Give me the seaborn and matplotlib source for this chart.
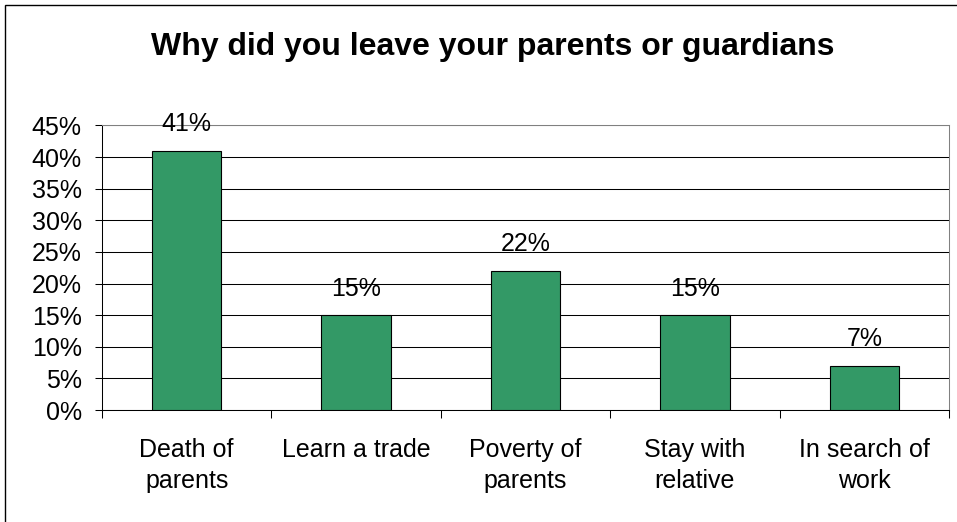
import matplotlib
matplotlib.use("Agg")
import matplotlib.pyplot as plt
import matplotlib.ticker as mticker
from matplotlib.patches import Rectangle
import seaborn as sns
import pandas as pd

# Survey answers and their shares
reasons = ["Death of\nparents", "Learn a trade", "Poverty of\nparents",
           "Stay with\nrelative", "In search of\nwork"]
shares = [0.41, 0.15, 0.22, 0.15, 0.07]
y_ticks = [0.00, 0.05, 0.10, 0.15, 0.20, 0.25, 0.30, 0.35, 0.40, 0.45]
title = "Why did you leave your parents or guardians"

sns.set_theme(style="white")
plt.rcParams["font.family"] = ["Liberation Sans", "DejaVu Sans"]

W, H = 957, 522
fig = plt.figure(figsize=(W / 100, H / 100), dpi=100)
fig.patch.set_facecolor("white")

# outer chart frame (only the top and left edges fall inside the canvas)
fig.add_artist(Rectangle((5 / W, -0.05), 1.2, 1.05 - 5 / H,
                         transform=fig.transFigure, fill=False,
                         edgecolor="black", linewidth=1.0))

ax = fig.add_axes([102 / W, 1 - 410 / H, (949 - 102) / W, (410 - 125.5) / H])
ax.set_facecolor("white")

df = pd.DataFrame({"reason": reasons, "share": shares})
sns.barplot(data=df, x="reason", y="share", color="#339966", saturation=1,
            width=0.41, edgecolor="black", linewidth=0.8, ax=ax, zorder=3)

ax.set_xlim(-0.5, len(reasons) - 0.5)
ax.set_ylim(0, 0.45)
ax.set_yticks(y_ticks)
ax.yaxis.set_major_formatter(mticker.PercentFormatter(1.0, decimals=0))
ax.grid(axis="y", color="black", linewidth=0.75, zorder=0)
ax.set_axisbelow(True)
ax.set_xlabel("")
ax.set_ylabel("")

for side in ("top", "right"):
    ax.spines[side].set_color("#808080")
    ax.spines[side].set_linewidth(0.75)
for side in ("left", "bottom"):
    ax.spines[side].set_color("black")
    ax.spines[side].set_linewidth(0.75)

ax.tick_params(axis="y", which="major", left=True, length=5, width=0.75,
               color="black", pad=9.5, labelsize=18, labelcolor="black")
# category labels without marks; marks sit on category boundaries
ax.tick_params(axis="x", which="major", bottom=False, length=0, pad=20,
               labelsize=18, labelcolor="black")
ax.set_xticks([i - 0.5 for i in range(len(reasons) + 1)], minor=True)
ax.tick_params(axis="x", which="minor", bottom=True, length=6, width=0.75,
               color="black")
for lbl in ax.get_xticklabels():
    lbl.set_linespacing(1.4)

for i, v in enumerate(shares):
    ax.annotate(f"{v:.0%}", xy=(i, v), xytext=(0, 14),
                textcoords="offset points", ha="center", va="baseline",
                fontsize=18, color="black", zorder=5, annotation_clip=False)

fig.text(493 / W, 1 - 55 / H, title, ha="center", va="baseline",
         fontsize=23, fontweight="bold", color="black")

fig.savefig("out.png", dpi=100, facecolor="white")
